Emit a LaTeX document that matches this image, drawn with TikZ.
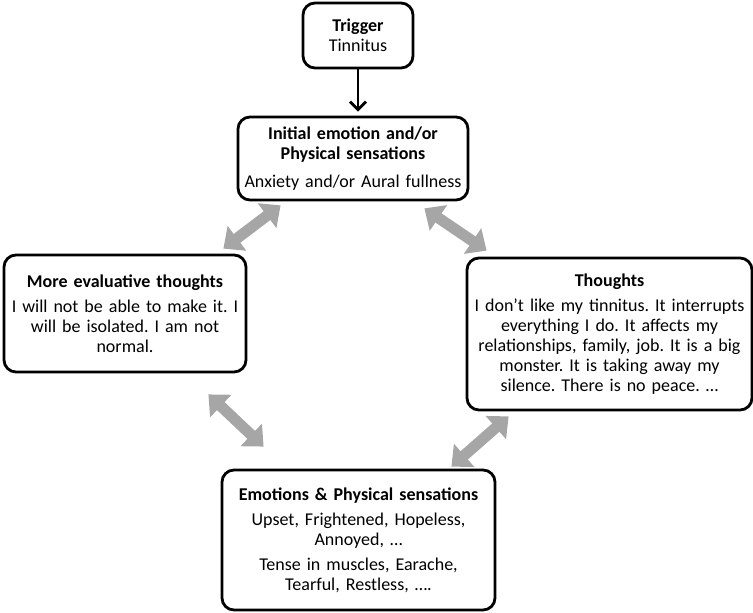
\documentclass[tikz,border=0pt]{standalone}
\usepackage{fontspec}
\setmainfont{Carlito}
\usetikzlibrary{arrows.meta,calc}
\definecolor{arrowgray}{RGB}{166,166,166}
\frenchspacing
\begin{document}
\begin{tikzpicture}[x=1pt,y=-1pt,
  box/.style={draw,line width=2.8pt,rounded corners=12pt,align=center,inner sep=0pt,font=\fontsize{18}{20}\selectfont},
  loop arrow/.style={draw=arrowgray,line width=11pt,{Triangle[length=17pt,width=30pt]}-{Triangle[length=17pt,width=30pt]}}]
  \useasboundingbox (0,0) rectangle (753,613);
  \node[box,text width=110pt,minimum height=65pt] (trigger) at (358,35.5) {\textbf{Trigger}\\Tinnitus};
  \node[box,text width=230pt,minimum height=83pt] (initial) at (353,158.5) {\textbf{Initial emotion and/or}\\\textbf{Physical sensations}\\[8pt]Anxiety and/or Aural fullness};
  \node[box,text width=242pt,minimum height=117pt] (evaluative) at (125,313.5) {\textbf{More evaluative thoughts}\\[5pt]I will not be able to make it. I\\will be isolated. I am not\\normal.};
  \node[box,text width=285pt,minimum height=152pt] (thoughts) at (609.5,334) {\textbf{Thoughts}\\[5pt]I don’t like my tinnitus. It interrupts\\everything I do. It affects my\\relationships, family, job. It is a big\\monster. It is taking away my\\silence. There is no peace. …};
  \node[box,text width=273pt,minimum height=140pt] (emotions) at (358.5,540) {\textbf{Emotions \& Physical sensations}\\[5pt]Upset, Frightened, Hopeless,\\Annoyed, …\\[5pt]Tense in muscles, Earache,\\Tearful, Restless, ….};
  \draw[line width=2.8pt,-{Straight Barb[length=8pt,width=16pt]},shorten >=4pt] (trigger.south) -- (trigger.south |- initial.north);
  \path[loop arrow] ($(evaluative.north east)+(-24,-5)$) -- ($(initial.south west)+(44,4)$);
  \path[loop arrow] ($(initial.south east)+(-45,7)$) -- ($(thoughts.north west)+(21,-6)$);
  \path[loop arrow] ($(evaluative.south east)+(-39,21)$) -- ($(emotions.north west)+(43,-22)$);
  \path[loop arrow] ($(thoughts.south west)+(43,5)$) -- ($(emotions.north east)+(-45,-2)$);
\end{tikzpicture}
\end{document}
